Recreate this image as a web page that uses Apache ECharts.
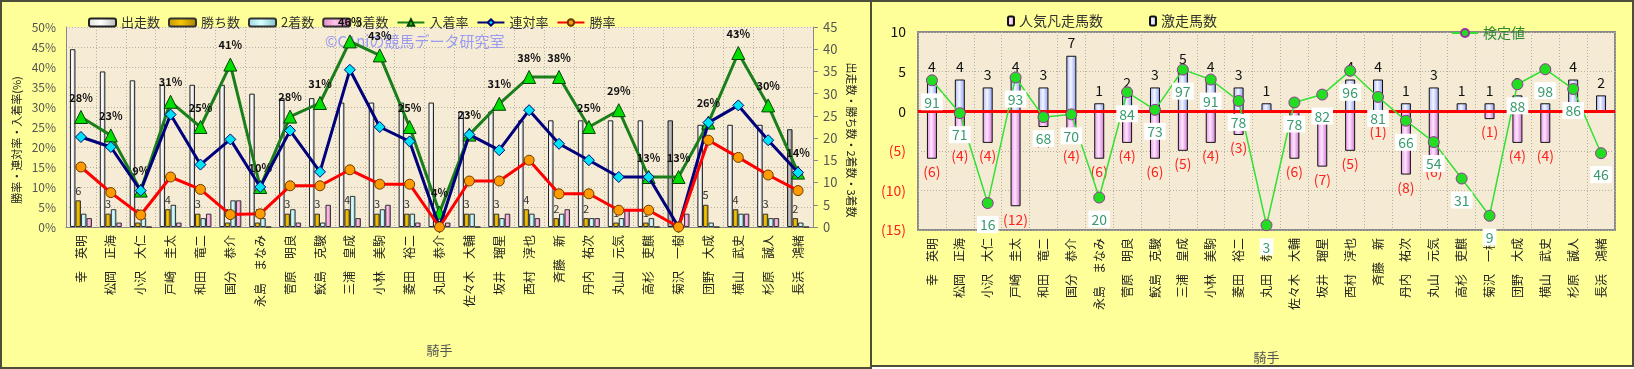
<!DOCTYPE html>
<html><head><meta charset="utf-8">
<script src="https://cdn.jsdelivr.net/npm/echarts@6/dist/echarts.min.js"></script>
<style>
html,body{margin:0;padding:0;width:1634px;height:369px;overflow:hidden;background:#fff;}
#p1{position:absolute;left:0;top:0;width:868px;height:365px;border:2px solid #4d4d3a;background:#FFFF99;}
#p2{position:absolute;left:870px;top:0;width:760px;height:363px;border:2px solid #4d4d3a;background:#FFFF99;}
#chart{position:absolute;left:0;top:0;width:1634px;height:369px;}
</style></head>
<body>
<div id="p1"></div><div id="p2"></div>
<div id="chart"></div>
<script>
// ---- data ----
const jockeys = ['幸　英明','松岡　正海','小沢　大仁','戸崎　圭太','和田　竜二','国分　恭介','永島　まなみ','菅原　明良','鮫島　克駿','三浦　皇成','小林　美駒','菱田　裕二','丸田　恭介','佐々木　大輔','坂井　瑠星','西村　淳也','斉藤　新','丹内　祐次','丸山　元気','高杉　吏麒','菊沢　一樹','団野　大成','横山　武史','杉原　誠人','長浜　鴻緒'];
const runs   = [40,35,33,32,32,32,30,29,29,28,28,28,28,26,26,24,24,24,24,24,24,23,23,23,22];
const wins   = [6,3,1,4,3,1,1,3,3,4,3,3,0,3,3,4,2,2,1,1,0,5,4,3,2];
const second = [3,4,2,5,2,6,2,4,1,7,4,3,0,3,2,3,3,2,2,2,0,1,3,2,1];
const third  = [2,1,0,1,3,6,0,1,5,2,5,1,1,0,3,2,4,2,4,0,3,0,3,2,0];
const winRate   = [15.0,8.6,3.0,12.5,9.4,3.1,3.3,10.3,10.3,14.3,10.7,10.7,0,11.5,11.5,16.7,8.3,8.3,4.2,4.2,0,21.7,17.4,13.0,9.1];
const rentaiRate= [22.5,20.0,9.1,28.1,15.6,21.9,10.0,24.1,13.8,39.3,25.0,21.4,0,23.1,19.2,29.2,20.8,16.7,12.5,12.5,0,26.1,30.4,21.7,13.6];
const placeRate = [27.5,22.9,9.1,31.3,25.0,40.6,10.0,27.6,31.0,46.4,42.9,25.0,3.6,23.1,30.8,37.5,37.5,25.0,29.2,12.5,12.5,26.1,43.5,30.4,13.6];
const placeRateLabels = [28,23,9,31,25,41,10,28,31,46,43,25,4,23,31,38,38,25,29,13,13,26,43,30,14];
const percentTicks = [0,50,5];
const countTicks = [0,45,5];
// right panel
const gekisou  = [4,4,3,4,3,7,1,2,3,5,4,3,1,0,0,4,4,1,3,1,1,2,1,4,2];
const bonsou   = [-6,-4,-4,-12,-2,-4,-6,-4,-6,-5,-4,-3,0,-6,-7,-5,-1,-8,-6,0,-1,-4,-4,0,0];
const kenteiPos   = [3.9,-0.25,-11.6,4.25,-0.75,-0.4,-10.9,2.4,0.17,5.25,4.0,1.3,-14.4,1.1,2.1,5.1,1.8,-1.2,-3.9,-8.5,-13.2,3.4,5.3,2.8,-5.3];
const kenteiLabels= [91,71,16,93,68,70,20,84,73,97,91,78,3,78,82,96,81,66,54,31,9,88,98,86,46];
const rightTicks = [-15,10,5];

const FONT = '"Noto Sans CJK JP","Noto Sans",sans-serif';
function hgrad(a,b,c){return new echarts.graphic.LinearGradient(0,0,1,0,[{offset:0,color:a},{offset:0.45,color:b},{offset:1,color:c}]);}
const grayIdx = [20,24];
const chart = echarts.init(document.getElementById('chart'));
const dotted = {type:[1,2],color:'#b5b0a0',width:1};
chart.setOption({
  animation:false,
  textStyle:{fontFamily:FONT},
  legend:[
    {left:83,top:11,itemWidth:27,itemHeight:8,itemGap:8,textStyle:{fontSize:13,color:'#333',fontFamily:FONT},
     data:['出走数','勝ち数','2着数','3着数','入着率','連対率','勝率']},
    {left:1002,top:9,itemWidth:6,itemHeight:9,itemGap:46,textStyle:{fontSize:14,color:'#333',fontFamily:FONT},
     data:['人気凡走馬数','激走馬数']},
    {left:1446,top:21,itemWidth:26,itemHeight:10,textStyle:{fontSize:14,color:'#2a8a2a',fontFamily:FONT},
     data:['検定値']}
  ],
  graphic:[{type:'text',left:325,top:34,z:1,style:{text:'©CAniの競馬データ研究室',fill:'#9a9af0',font:'15px '+FONT}}],
  grid:[
    {left:66,top:27,width:747,height:200,show:true,backgroundColor:'#F6ECD6',borderWidth:0},
    {left:918,top:32,width:697,height:200,show:true,backgroundColor:'#F5EBD4',borderColor:'#8a8a8a',borderWidth:2}
  ],
  xAxis:[
    {type:'category',gridIndex:0,data:jockeys,boundaryGap:true,
     axisLine:{lineStyle:{color:'#888'}},axisTick:{show:false},
     splitLine:{show:true,lineStyle:dotted},
     axisLabel:{rotate:90,interval:0,fontSize:12,color:'#222',margin:8},
     name:'騎手',nameLocation:'middle',nameGap:117,nameTextStyle:{fontSize:13,color:'#555'}},
    {type:'category',gridIndex:1,data:jockeys,boundaryGap:true,
     axisLine:{show:false},axisTick:{show:false},
     splitLine:{show:true,lineStyle:dotted},
     axisLabel:{rotate:90,interval:0,fontSize:12,color:'#222',margin:8},
     name:'騎手',nameLocation:'middle',nameGap:121,nameTextStyle:{fontSize:13,color:'#555'}}
  ],
  yAxis:[
    {type:'value',gridIndex:0,min:percentTicks[0],max:percentTicks[1],interval:percentTicks[2],
     axisLine:{show:true,lineStyle:{color:'#888'}},axisTick:{show:false},
     splitLine:{show:true,lineStyle:dotted},
     axisLabel:{formatter:'{value}%',fontSize:12,color:'#555',margin:10},
     name:'勝率・連対率・入着率(%)',nameLocation:'middle',nameGap:44,nameRotate:90,
     nameTextStyle:{fontSize:11,color:'#222',padding:[0,26,0,0]}},
    {type:'value',gridIndex:0,position:'right',min:countTicks[0],max:countTicks[1],interval:countTicks[2],
     axisLine:{show:true,lineStyle:{color:'#888'}},axisTick:{show:true,length:5,lineStyle:{color:'#888'}},
     splitLine:{show:false},
     axisLabel:{fontSize:13,color:'#555',margin:10},
     name:'出走数・勝ち数・2着数・3着数',nameLocation:'middle',nameGap:33,nameRotate:-90,
     nameTextStyle:{fontSize:11,color:'#222',padding:[0,0,0,26]}},
    {type:'value',gridIndex:1,min:rightTicks[0],max:rightTicks[1],interval:rightTicks[2],
     axisLine:{show:false},axisTick:{show:false},
     splitLine:{show:true,lineStyle:dotted},
     axisLabel:{fontSize:14,margin:12,
       formatter:v=>v<0?'('+(-v)+')':String(v),
       color:v=>v<0?'#ff2020':'#111'}}
  ],
  series:[
    {name:'出走数',type:'bar',xAxisIndex:0,yAxisIndex:1,barWidth:5.5,barGap:'0%',
     data:runs.map((v,i)=>grayIdx.includes(i)?{value:v,itemStyle:{color:hgrad('#8a8a8a','#c4c4c4','#6e6e6e')}}:v),
     itemStyle:{color:hgrad('#e0e0e0','#ffffff','#b8b8b8'),borderColor:'#222',borderWidth:1}},
    {name:'勝ち数',type:'bar',xAxisIndex:0,yAxisIndex:1,barWidth:5.5,barGap:'0%',data:wins,
     itemStyle:{color:hgrad('#c79500','#f6c600','#a87e00'),borderColor:'#333',borderWidth:1},
     label:{show:true,position:'top',distance:4,fontSize:11,color:'#333',formatter:p=>p.value?p.value:''}},
    {name:'2着数',type:'bar',xAxisIndex:0,yAxisIndex:1,barWidth:5.5,barGap:'0%',data:second,
     itemStyle:{color:hgrad('#9ad8e2','#d8ffff','#7cc2cc'),borderColor:'#333',borderWidth:1}},
    {name:'3着数',type:'bar',xAxisIndex:0,yAxisIndex:1,barWidth:5.5,barGap:'0%',data:third,
     itemStyle:{color:hgrad('#e088c4','#ffc4ea','#c468a8'),borderColor:'#333',borderWidth:1}},
    {name:'入着率',type:'line',xAxisIndex:0,yAxisIndex:0,data:placeRate,z:5,
     lineStyle:{color:'#1a7f1a',width:3},symbol:'triangle',symbolSize:13,
     itemStyle:{color:'#00dd00',borderColor:'#0a400a',borderWidth:1},
     label:{show:true,position:'top',distance:7,fontSize:11,fontWeight:'bold',color:'#111',
       formatter:p=>placeRateLabels[p.dataIndex]+'%'}},
    {name:'連対率',type:'line',xAxisIndex:0,yAxisIndex:0,data:rentaiRate,z:6,
     lineStyle:{color:'#00007a',width:3},symbol:'diamond',symbolSize:11,
     itemStyle:{color:'#00e4f2',borderColor:'#00007a',borderWidth:1}},
    {name:'勝率',type:'line',xAxisIndex:0,yAxisIndex:0,data:winRate,z:7,
     lineStyle:{color:'#ff0000',width:3},symbol:'circle',symbolSize:10,
     itemStyle:{color:'#ff9a00',borderColor:'#6a3a00',borderWidth:1}},
    {name:'人気凡走馬数',type:'bar',xAxisIndex:1,yAxisIndex:2,barWidth:10,barGap:'-100%',data:bonsou,
     itemStyle:{color:hgrad('#e890e8','#ffe6ff','#d070d0'),borderColor:'#111',borderWidth:1},
     label:{show:true,position:'bottom',distance:6,fontSize:14,color:'#ff2020',formatter:p=>p.value?'('+(-p.value)+')':''}},
    {name:'激走馬数',type:'bar',xAxisIndex:1,yAxisIndex:2,barWidth:10,barGap:'-100%',data:gekisou,
     itemStyle:{color:hgrad('#aab8ff','#f4f6ff','#8c9cf0'),borderColor:'#111',borderWidth:1},
     label:{show:true,position:'top',distance:6,fontSize:14,color:'#111',formatter:p=>p.value?p.value:''},
     markLine:{silent:true,symbol:'none',label:{show:false},lineStyle:{color:'#ff0000',width:3,type:'solid'},data:[{yAxis:0}]}},
    {name:'検定値',type:'line',xAxisIndex:1,yAxisIndex:2,data:kenteiPos,z:8,
     lineStyle:{color:'#33e033',width:1.5},symbol:'circle',symbolSize:11,
     itemStyle:{color:'#22dd22',borderColor:'#993399',borderWidth:1},
     label:{show:true,position:'bottom',distance:7,fontSize:14,color:'#3a9a6e',backgroundColor:'#ffffff',padding:[2,3,1,3],
       formatter:p=>kenteiLabels[p.dataIndex]}}
  ]
});
</script>
</body></html>
